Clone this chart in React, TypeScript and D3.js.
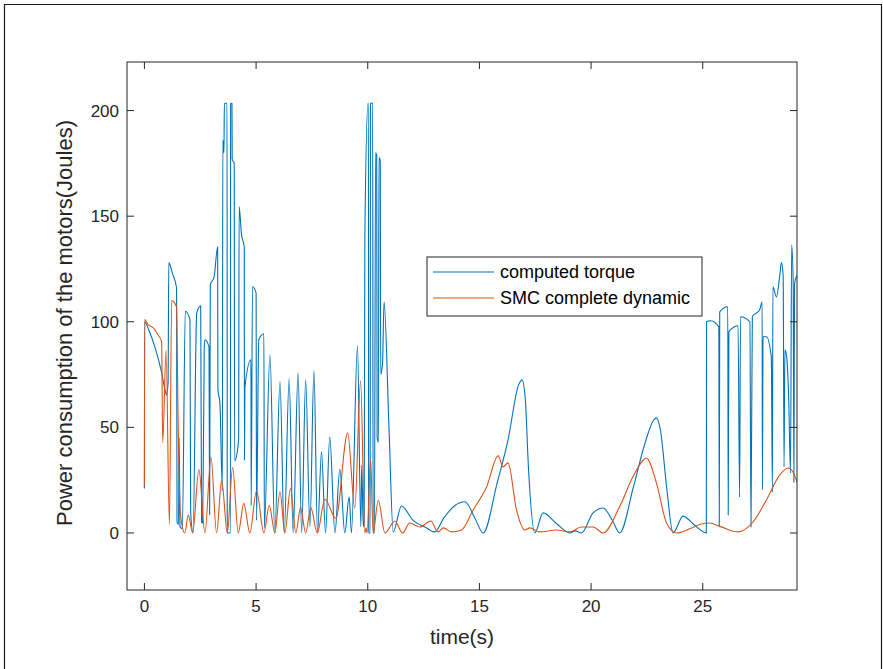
import React from "react";
import * as d3 from "d3";

// ---- data ----
const xTicks = [0, 5, 10, 15, 20, 25];
const yTicks = [0, 50, 100, 150, 200];
const seriesNames = ["computed torque", "SMC complete dynamic"];
const seriesColors = ["#0072BD", "#D95319"];

const torqueT = [
  0.0, 0.01, 0.2, 0.47, 0.77, 0.94, 0.99, 1.06, 1.09, 1.25, 1.44, 1.46, 1.53, 1.55, 1.57, 1.59, 1.7, 1.83,
  2.04, 2.07, 2.18, 2.34, 2.52, 2.56, 2.61, 2.68, 2.71, 2.89, 2.92, 2.95, 3.12, 3.28, 3.29, 3.38, 3.49, 3.51,
  3.56, 3.58, 3.7, 3.71, 3.85, 3.86, 3.92, 3.93, 4.02, 4.04, 4.15, 4.22, 4.24, 4.35, 4.47, 4.48, 4.5, 4.77,
  4.78, 4.84, 5.0, 5.02, 5.12, 5.35, 5.37, 5.62, 5.84, 6.07, 6.26, 6.48, 6.66, 6.88, 7.04, 7.22, 7.41, 7.59,
  7.75, 7.93, 8.11, 8.3, 8.53, 8.75, 8.97, 9.17, 9.27, 9.54, 9.69, 9.73, 9.8, 9.84, 9.87, 10.01, 10.03, 10.04,
  10.11, 10.12, 10.22, 10.24, 10.3, 10.35, 10.4, 10.42, 10.48, 10.5, 10.56, 10.58, 10.66, 10.73, 10.95, 11.14,
  11.51, 12.03, 12.56, 13.0, 13.4, 13.9, 14.35, 14.8, 15.17, 15.8, 16.28, 16.75, 16.91, 17.05, 17.2, 17.48,
  17.85, 18.45, 19.05, 19.3, 19.57, 20.09, 20.54, 20.95, 21.28, 21.9, 22.4, 22.8, 22.93, 23.1, 23.4, 23.67,
  24.12, 24.6, 25.16, 25.17, 25.35, 25.72, 25.74, 25.76, 26.12, 26.14, 26.17, 26.4, 26.58, 26.65, 26.69, 27.11,
  27.16, 27.22, 27.55, 27.66, 27.67, 27.7, 27.85, 28.07, 28.12, 28.14, 28.3, 28.45, 28.52, 28.6, 28.64, 28.68,
  28.75, 28.85, 28.93, 28.98, 29.05, 29.08, 29.11, 29.22,
];
const torqueV = [
  21, 100, 96, 88, 76, 67, 65.4, 71, 128, 123, 116, 5, 4, 45, 31, 3, 2, 105,
  101, 10, 0, 104, 107.6, 5, 4.7, 88, 91.5, 88.2, 8.5, 117.5, 121.3, 135.5, 68, 61.6, 20, 186,
  180, 203.5, 203.5, 0, 0, 203.5, 203.5, 177, 175, 34, 38, 45, 154.5, 141, 135.5, 34.6, 69, 82,
  13, 116.6, 113.7, 6, 91.5, 94.3, 2.4, 84.4, 0, 71.6, 0, 73, 0, 75.8, 0, 72.5, 2.8, 76.8,
  0, 38.4, 0, 45.5, 0, 30.3, 0, 17.1, 0, 88.6, 3, 32, 3, 5, 140, 203.5, 203.5, 0,
  0, 203.5, 203.5, 0, 0, 180, 179, 45, 43, 177.7, 176, 75, 80, 109.5, 50, 0.5,
  12.8, 6, 2.8, 0.5, 7, 13, 14.8, 7, 0, 24, 44, 70, 72.5, 64, 30, 0,
  9.5, 4.5, 0, 1, 0, 9.5, 11.8, 6, 0, 22, 42, 53.5, 54.5, 49, 20, 0,
  8, 4, 0, 100, 100.5, 97.6, 3, 104.7, 107.1, 8.5, 95.3, 97.5, 98.1, 17, 102.4, 100,
  2.8, 102.4, 105.7, 109.5, 20.4, 92.9, 92.9, 83.4, 19.4, 116.6, 111.8, 122, 128, 122, 31.3, 86.7,
  84, 63, 28.4, 136.5, 118.5, 24, 118, 122,
];

const smcT = [
  0.0, 0.01, 0.17, 0.39, 0.6, 0.77, 0.82, 0.97, 1.12, 1.22, 1.44, 1.5, 1.62, 1.81, 1.96, 2.16, 2.44, 2.71,
  2.98, 3.23, 3.46, 3.71, 3.95, 4.2, 4.45, 4.72, 5.02, 5.35, 5.59, 5.84, 6.07, 6.29, 6.54, 6.78, 6.99, 7.22,
  7.45, 7.74, 8.08, 8.57, 9.1, 9.42, 9.68, 9.87, 9.92, 9.97, 10.13, 10.24, 10.47, 10.77, 11.21, 11.56, 11.88,
  12.33, 12.82, 13.15, 13.38, 13.75, 14.2, 14.72, 15.32, 15.84, 16.06, 16.28, 16.66, 17.03, 17.26, 17.7, 18.45,
  19.05, 19.57, 20.09, 20.54, 21.28, 21.88, 22.48, 22.93, 23.38, 23.82, 24.42, 24.87, 25.31, 25.8, 26.58, 27.25,
  27.85, 28.45, 28.82, 29.04, 29.27,
];
const smcV = [
  22, 101, 98.6, 97.2, 94, 90.5, 42.7, 86.5, 4, 110, 107, 60, 8, 0, 8.5, 0, 30, 0,
  36, 0, 25, 0, 31, 0, 14, 0, 20, 0, 13, 0, 19.5, 0, 21, 0, 12, 0,
  12, 0, 16, 7, 47.4, 11.8, 72, 0, 2.5, 0, 34.6, 0, 15.6, 0, 5.7, 0, 4.7,
  2.8, 5.7, 0.5, 2.4, 0.5, 1.4, 10.9, 21.8, 36.5, 31.3, 33.2, 10.9, 1.4, 2.4, 0.5, 1.4,
  0.5, 2.8, 2.8, 0, 12.5, 26.7, 35.4, 23.5, 4.7, 0, 2, 4, 4.7, 3, 0.5, 5.2,
  15.6, 27.5, 30.8, 28.9, 22.7,
];

// ---- layout ----
const W = 883;
const H = 669;
const L = 127, R = 797, T = 62, B = 590;
const axisColor = "#262626";
const font = "'Liberation Sans', Arial, Helvetica, sans-serif";

export default function App() {
  const x = d3.scaleLinear().domain([-0.78, 29.22]).range([L, R]);
  const y = d3.scaleLinear().domain([-27, 223]).range([B, T]);
  const line = d3
    .line<[number, number]>()
    .x((d) => x(d[0]))
    .y((d) => y(d[1]))
    .curve(d3.curveMonotoneX);
  const torque: [number, number][] = torqueT.map((t, i) => [t, torqueV[i]]);
  const smc: [number, number][] = smcT.map((t, i) => [t, smcV[i]]);
  const tick = 7;

  const legX = 427, legY = 257, legW = 275, legH = 59;

  return (
    <svg
      width={W}
      height={H}
      style={{ position: "absolute", left: 0, top: 0, background: "#fff" }}
      fontFamily={font}
    >
      <rect x={0} y={0} width={W} height={H} fill="#fff" />
      <path d={`M4.5,${H} V4.5 H881.5 V${H}`} fill="none" stroke="#1a1a1a" strokeWidth={1.2} />
      <defs>
        <clipPath id="plotClip">
          <rect x={L} y={T} width={R - L} height={B - T} />
        </clipPath>
      </defs>
      <g clipPath="url(#plotClip)" fill="none" strokeWidth={1.1} strokeLinejoin="round">
        <path d={line(torque) || ""} stroke={seriesColors[0]} />
        <path d={line(smc) || ""} stroke={seriesColors[1]} />
      </g>
      {/* axes box */}
      <rect x={L} y={T} width={R - L} height={B - T} fill="none" stroke={axisColor} strokeWidth={1} />
      {xTicks.map((t) => (
        <g key={"x" + t}>
          <line x1={x(t)} x2={x(t)} y1={B} y2={B - tick} stroke={axisColor} />
          <line x1={x(t)} x2={x(t)} y1={T} y2={T + tick} stroke={axisColor} />
          <text x={x(t)} y={612} textAnchor="middle" fontSize={17} fill={axisColor}>
            {t}
          </text>
        </g>
      ))}
      {yTicks.map((v) => (
        <g key={"y" + v}>
          <line x1={L} x2={L + tick} y1={y(v)} y2={y(v)} stroke={axisColor} />
          <line x1={R} x2={R - tick} y1={y(v)} y2={y(v)} stroke={axisColor} />
          <text x={L - 8} y={y(v) + 6} textAnchor="end" fontSize={17} fill={axisColor}>
            {v}
          </text>
        </g>
      ))}
      <text x={(L + R) / 2} y={644} textAnchor="middle" fontSize={21} fill={axisColor}>
        time(s)
      </text>
      <text
        transform={`translate(72,${(T + B) / 2 - 3}) rotate(-90)`}
        textAnchor="middle"
        fontSize={22}
        fill={axisColor}
      >
        Power consumption of the motors(Joules)
      </text>
      {/* legend */}
      <rect x={legX} y={legY} width={legW} height={legH} fill="#fff" stroke={axisColor} strokeWidth={1} />
      {seriesNames.map((n, i) => (
        <g key={n}>
          <line
            x1={legX + 6}
            x2={legX + 67}
            y1={legY + 15 + i * 26}
            y2={legY + 15 + i * 26}
            stroke={seriesColors[i]}
            strokeWidth={1.1}
          />
          <text x={legX + 73} y={legY + 21 + i * 26} fontSize={18} fill="#000">
            {n}
          </text>
        </g>
      ))}
    </svg>
  );
}
